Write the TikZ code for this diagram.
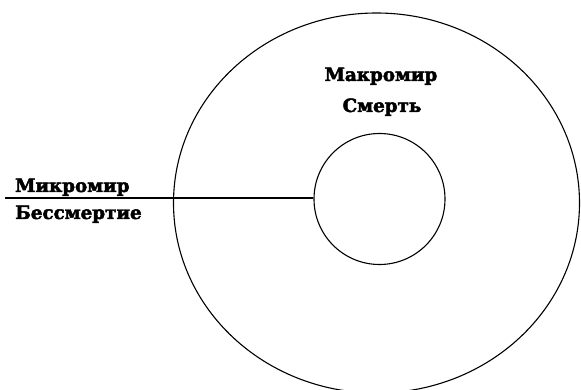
\documentclass[tikz,border=0pt]{standalone}
\usepackage{fontspec}
\setmainfont{DejaVu Serif}[BoldFeatures={FakeBold=2.5}]
\usetikzlibrary{shapes.geometric}
\tikzset{
  ring/.style={draw=black, line width=1.1pt, inner sep=0pt},
  lbl/.style={font=\fontsize{18.3}{22}\selectfont\bfseries, inner sep=0pt, text=black},
  link/.style={draw=black, line width=1.6pt}
}
\begin{document}
\begin{tikzpicture}[x=1pt,y=1pt]
\clip (0,0) rectangle (581,-390);
\fill[white] (0,0) rectangle (581,-390);
\node[ring, ellipse, minimum width=406pt, minimum height=380pt] (outer) at (376.5,-203) {};
\node[ring, circle, minimum size=131pt] (inner) at (379.5,-199) {};
\coordinate (start) at (5,-198);
\draw[link] (start) -- (inner.west |- start);
\node[lbl, anchor=base west] (micro) at (15,-192) {Микромир};
\node[lbl, anchor=base west] (immort) at (15,-219) {Бессмертие};
\node[lbl, anchor=base] (macro) at (381,-81) {Макромир};
\node[lbl, anchor=base] (death) at (382,-112) {Смерть};
\end{tikzpicture}
\end{document}
